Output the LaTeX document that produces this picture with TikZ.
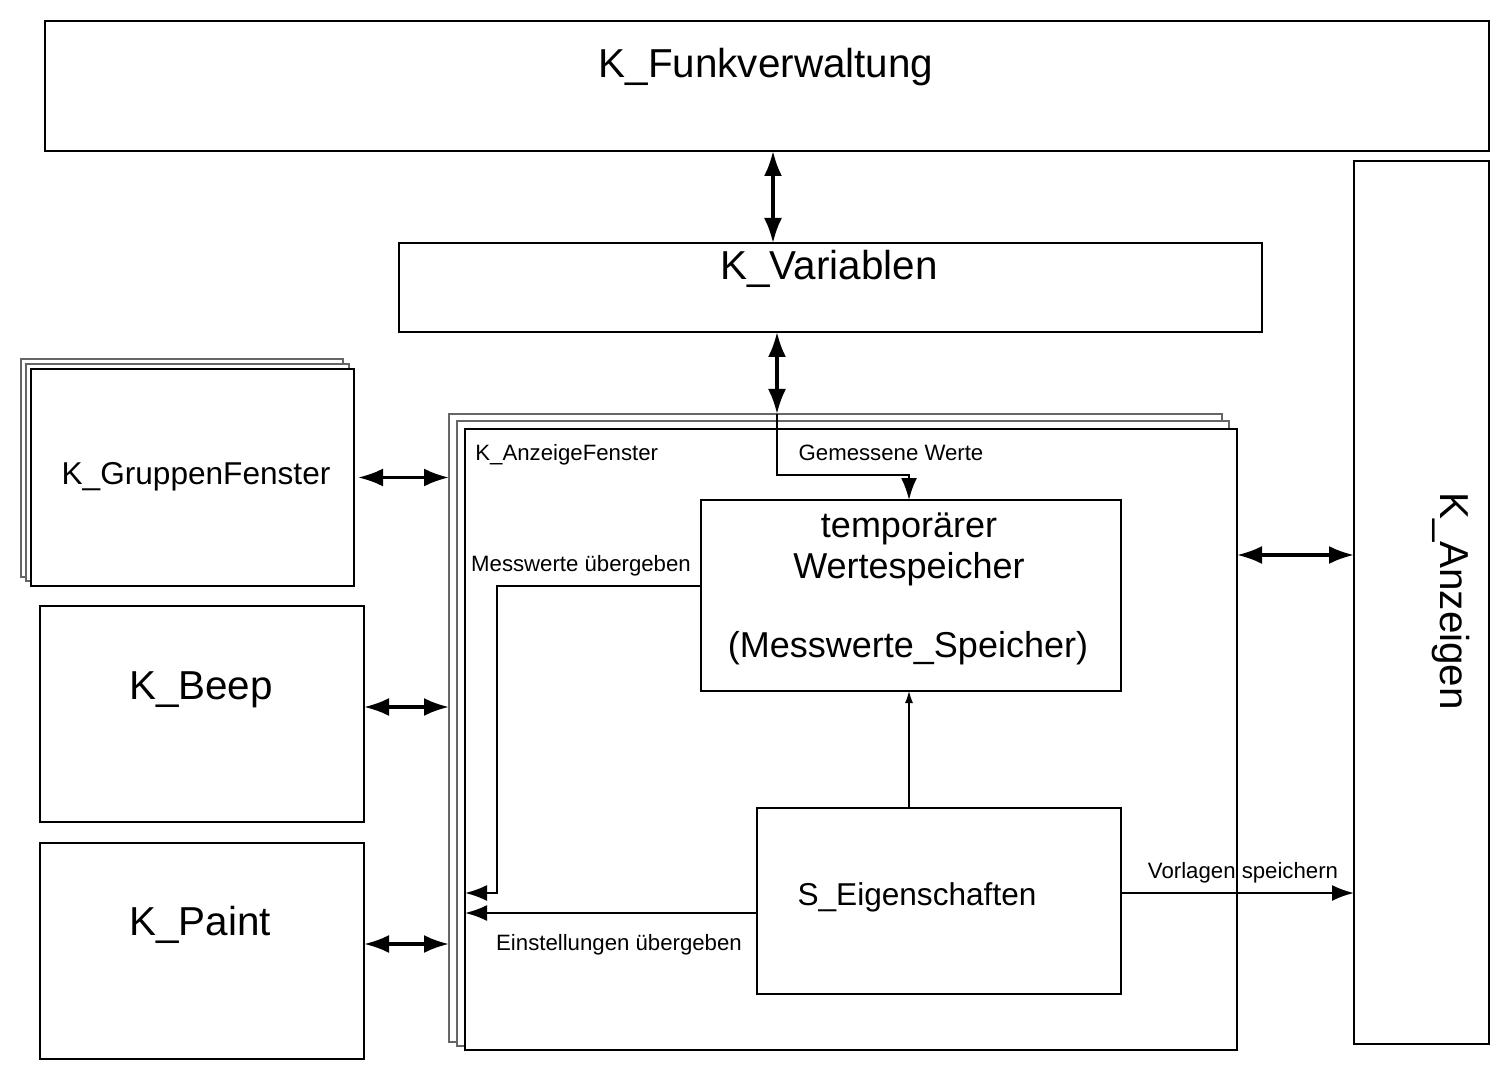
\documentclass[tikz,border=0pt]{standalone}
\usepackage{fontspec}
\setmainfont{Liberation Sans}
\usetikzlibrary{arrows.meta}
\newcommand\pbox[6]{\node[#6, minimum width={(#4-#2)*0.5pt}, minimum height={(#5-#3)*0.5pt}] (#1) at ({(#2+#4)/2},{(#3+#5)/2}) {};}
\tikzset{
  box/.style={draw=black, fill=white, line width=0.6pt, inner sep=0pt, outer sep=0pt},
  backbox/.style={box, draw=black!60},
  bigfont/.style={font=\fontsize{20.2}{24}\selectfont},
  midfont/.style={font=\fontsize{15.8}{19}\selectfont},
  tmpfont/.style={font=\fontsize{18}{21}\selectfont},
  smallfont/.style={font=\fontsize{11.1}{13}\selectfont},
  lbl/.style={anchor=base, inner sep=0pt},
  dblarrow/.style={line width=1.6pt, {Latex[length=12.5pt,width=9pt]}-{Latex[length=12.5pt,width=9pt]}},
  flowarrow/.style={line width=1.1pt, -{Latex[length=11pt,width=8pt]}},
  thinarrow/.style={line width=0.6pt, -{Latex[length=6pt,width=4pt]}},
}
\begin{document}
\begin{tikzpicture}[x=0.5pt,y=-0.5pt]
\useasboundingbox (0,0) rectangle (1509,1080);
% boxes
\pbox{funk}{45}{21}{1489}{151}{box}
\pbox{var}{399}{243}{1262}{332}{box}
\pbox{anz}{1354}{161}{1489}{1044}{box}
\pbox{gfb}{21}{359}{343}{577}{backbox}
\pbox{gfm}{26}{364}{349}{581}{backbox}
\pbox{gf}{31}{369}{354}{586}{box}
\pbox{beep}{40}{606}{364}{822}{box}
\pbox{paint}{40}{843}{364}{1059}{box}
\pbox{afb}{449}{414}{1222}{1042}{backbox}
\pbox{afm}{457}{421}{1229}{1046}{backbox}
\pbox{af}{465}{429}{1237}{1050}{box}
\pbox{temp}{701}{500}{1121}{691}{box}
\pbox{seig}{757}{808}{1121}{994}{box}
% texts
\node[lbl, bigfont] (tfunk) at (766,78) {K\_Funkverwaltung};
\node[lbl, bigfont] (tvar) at (829,280) {K\_Variablen};
\node[lbl, bigfont, rotate=-90] (tanz) at (1440,601) {K\_Anzeigen};
\node[lbl, midfont] (tgf) at (196,484) {K\_GruppenFenster};
\node[lbl, bigfont] (tbeep) at (201,699) {K\_Beep};
\node[lbl, bigfont] (tpaint) at (200,935) {K\_Paint};
\node[lbl, smallfont, anchor=base west] (taf) at (475,460) {K\_AnzeigeFenster};
\node[lbl, tmpfont] (ttemp1) at (909,537) {temporärer};
\node[lbl, tmpfont] (ttemp2) at (909,578) {Wertespeicher};
\node[lbl, tmpfont] (ttemp3) at (908,657) {(Messwerte\_Speicher)};
\node[lbl, midfont] (tseig) at (917,905) {S\_Eigenschaften};
\node[lbl, smallfont] (lgem) at (891,460) {Gemessene Werte};
\node[lbl, smallfont] (lmess) at (581,571) {Messwerte übergeben};
\node[lbl, smallfont] (lein) at (619,950) {Einstellungen übergeben};
\node[lbl, smallfont] (lvor) at (1243,878) {Vorlagen speichern};
% helper coordinates
\coordinate (c1) at (773,0);
\coordinate (c2) at (777,0);
\coordinate (g1) at (777,475);
\coordinate (m1) at (497,586);
\coordinate (m2) at (497,893);
\coordinate (e1) at (0,913);
\coordinate (v1) at (0,893);
\coordinate (a1) at (0,555);
\coordinate (t1) at (909,0);
% connectors
\draw[dblarrow] (funk.south -| c1) -- (var.north -| c1);
\draw[dblarrow] (var.south -| c2) -- (afb.north -| c2);
\draw[flowarrow] (afb.north -| c2) -- (g1) -| (temp.north -| t1);
\draw[dblarrow] ([xshift=2pt]gf.east) -- (gf.east -| afb.west);
\draw[dblarrow] ([yshift=3.5pt]beep.east) -- ([yshift=3.5pt]beep.east -| afb.west);
\draw[dblarrow] ([yshift=3.5pt]paint.east) -- ([yshift=3.5pt]paint.east -| afb.west);
\draw[dblarrow] (af.east |- a1) -- (anz.west |- a1);
\draw[flowarrow] (temp.west |- m1) -- (m1) -- (m2) -- (m2 -| af.west);
\draw[flowarrow] (seig.west |- e1) -- (af.west |- e1);
\draw[flowarrow] (seig.east |- v1) -- (anz.west |- v1);
\draw[thinarrow] (seig.north -| t1) -- (temp.south -| t1);
\end{tikzpicture}
\end{document}
